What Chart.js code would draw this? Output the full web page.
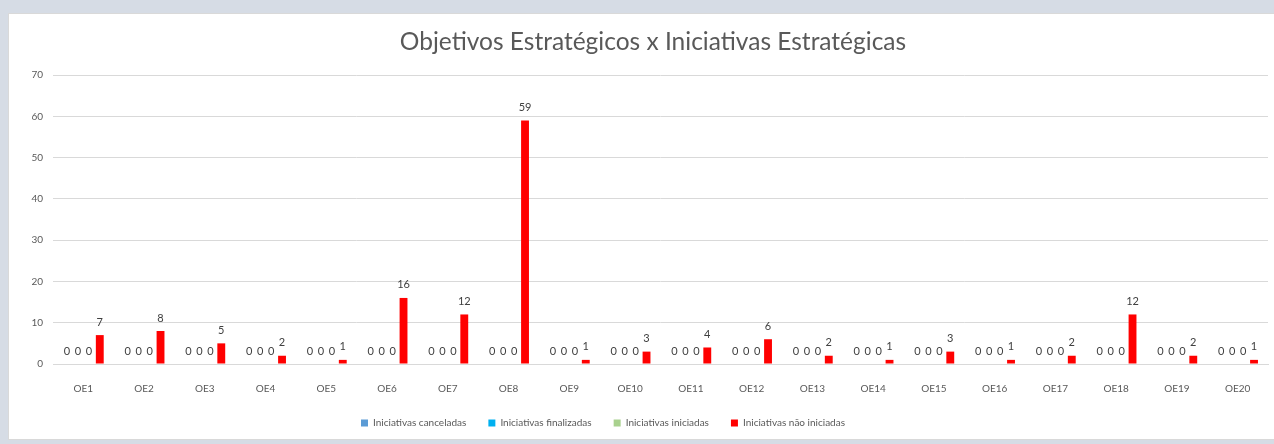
<!DOCTYPE html>
<html>
<head>
<meta charset="utf-8">
<script src="https://cdn.jsdelivr.net/npm/chart.js@4.4.1/dist/chart.umd.min.js"></script>
<style>
  html, body { margin: 0; padding: 0; background: #d6dce5; width: 1274px; height: 444px; overflow: hidden; }
  #panel { position: absolute; left: 8px; top: 13px; width: 1280px; height: 427px; background: #fff; border: 1px solid #d9d9d9; box-sizing: border-box; }
  #wrap { position: absolute; left: 0; top: 0; width: 1274px; height: 444px; }
</style>
</head>
<body>
<div id="panel"></div>
<div id="wrap"><canvas id="c" width="1274" height="444"></canvas></div>
<script>
const categories = ['OE1','OE2','OE3','OE4','OE5','OE6','OE7','OE8','OE9','OE10','OE11','OE12','OE13','OE14','OE15','OE16','OE17','OE18','OE19','OE20'];
const canceladas  = [0,0,0,0,0,0,0,0,0,0,0,0,0,0,0,0,0,0,0,0];
const finalizadas = [0,0,0,0,0,0,0,0,0,0,0,0,0,0,0,0,0,0,0,0];
const iniciadas   = [0,0,0,0,0,0,0,0,0,0,0,0,0,0,0,0,0,0,0,0];
const naoIniciadas = [7,8,5,2,1,16,12,59,1,3,4,6,2,1,3,1,2,12,2,1];
const seriesNames = ['Iniciativas canceladas','Iniciativas finalizadas','Iniciativas iniciadas','Iniciativas não iniciadas'];
const yTicks = [0,10,20,30,40,50,60,70];

const FONT = 'Lato, "Liberation Sans", sans-serif';

const dataLabels = {
  id: 'dataLabels',
  afterDatasetsDraw(chart) {
    const ctx = chart.ctx;
    ctx.save();
    ctx.font = '11px ' + FONT;
    ctx.fillStyle = '#404040';
    ctx.textAlign = 'center';
    ctx.textBaseline = 'middle';
    chart.data.datasets.forEach((ds, i) => {
      const meta = chart.getDatasetMeta(i);
      meta.data.forEach((bar, j) => {
        ctx.fillText(String(ds.data[j]), bar.x, bar.y - 13);
      });
    });
    ctx.restore();
  }
};

const boxTweaks = {
  id: 'boxTweaks',
  beforeLayout(chart) {
    const l = chart.legend;
    if (l && !l._fitWrapped) {
      const orig = l.fit.bind(l);
      l.fit = function () { orig(); this.height = 44; };
      l._fitWrapped = true;
    }
  },
  afterLayout(chart) {
    const t = chart.titleBlock, l = chart.legend;
    if (t) { t.left += 19; t.right += 19; }
    if (l) { l.left -= 31; l.right -= 31; }
  }
};

new Chart(document.getElementById('c'), {
  type: 'bar',
  data: {
    labels: categories,
    datasets: [
      { label: seriesNames[0], data: canceladas, backgroundColor: '#5b9bd5' },
      { label: seriesNames[1], data: finalizadas, backgroundColor: '#00b0f0' },
      { label: seriesNames[2], data: iniciadas, backgroundColor: '#a9d18e' },
      { label: seriesNames[3], data: naoIniciadas, backgroundColor: '#ff0000' }
    ]
  },
  options: {
    responsive: false,
    animation: false,
    devicePixelRatio: 1,
    layout: { padding: { left: 0, right: 6, top: 0, bottom: 4 } },
    datasets: { bar: { categoryPercentage: 0.72, barPercentage: 0.72 } },
    scales: {
      x: {
        grid: { display: false, drawTicks: false },
        border: { display: true, color: '#d9d9d9' },
        afterFit(scale) { scale.height = 32; },
        ticks: { color: '#595959', font: { family: FONT, size: 10 }, padding: 19, maxRotation: 0, autoSkip: false }
      },
      y: {
        min: 0, max: 70,
        afterBuildTicks(scale) { scale.ticks = yTicks.map(v => ({ value: v })); },
        afterFit(scale) { scale.width = 53; },
        grid: { color: '#d9d9d9', drawTicks: false },
        border: { display: false },
        ticks: { color: '#595959', font: { family: FONT, size: 10 }, padding: 10 }
      }
    },
    plugins: {
      title: {
        display: true,
        text: 'Objetivos Estratégicos x Iniciativas Estratégicas',
        color: '#595959',
        font: { family: FONT, size: 24.5, weight: 'normal' },
        padding: { top: 27.3, bottom: 18.3 }
      },
      legend: {
        position: 'bottom',
        labels: { color: '#595959', font: { family: FONT, size: 10 }, boxWidth: 7, boxHeight: 7, padding: 22 }
      },
      tooltip: { enabled: false }
    }
  },
  plugins: [dataLabels, boxTweaks]
});
</script>
</body>
</html>
